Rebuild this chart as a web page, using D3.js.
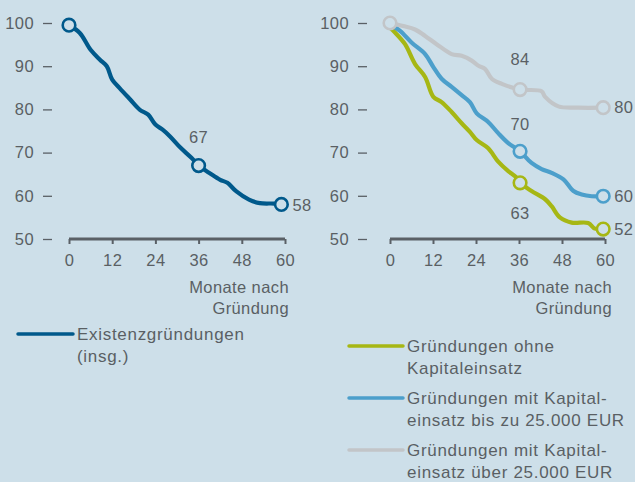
<!DOCTYPE html>
<html>
<head>
<meta charset="utf-8">
<script src="https://cdn.jsdelivr.net/npm/d3@7"></script>
<style>
  html, body { margin: 0; padding: 0; background: #cddfe9; }
  svg { display: block; }
  text { font-family: "Liberation Sans", Arial, sans-serif; fill: #5a5f64; }
</style>
</head>
<body>
<svg id="chart" width="635" height="482"></svg>
<script>
// ---- data ----
const yTicks = [50, 60, 70, 80, 90, 100];
const xTicks = [0, 12, 24, 36, 48, 60];
const xAxisTitle = ["Monate nach", "Gründung"];

// left panel: all start-ups
const totalMonths = [0, 3, 6, 8.6, 10.5, 12, 14, 17, 19.7, 22, 24, 26, 28, 31, 34, 36, 39, 42, 44, 46.5, 50, 53, 57, 59];
const totalValues = [99.5, 97.7, 93.8, 91.5, 90, 86.9, 85, 82.3, 79.9, 78.8, 76.5, 75.3, 73.8, 71.1, 68.8, 67, 65.3, 63.7, 63, 61, 59.1, 58.3, 58.2, 58];
const totalMarks = [0, 36, 59];
const totalLabels = ["", "67", "58"];

// right panel
const noCapMonths = [0, 1.4, 4.2, 7, 9.8, 12.1, 14.4, 17.2, 20, 22.3, 24.2, 27.4, 30.2, 33, 34.9, 36.3, 39.5, 43.3, 45.1, 47.4, 50.7, 55.3, 57.2, 59.5];
const noCapValues = [98.9, 97.8, 95.1, 90.5, 87.5, 82.9, 81.7, 79.4, 76.8, 74.8, 72.9, 71, 67.9, 65.7, 64.5, 63, 61.1, 59.2, 57.6, 55, 53.8, 53.7, 52.4, 52.3];

const lowCapMonths = [0, 2.8, 6, 9.8, 12.1, 14.4, 17.2, 20, 22.3, 24.2, 27.4, 30.2, 33, 36.3, 39.5, 42.3, 45.1, 48.4, 51.2, 53.5, 56.3, 59.5];
const lowCapValues = [99.7, 98.2, 95.5, 92.8, 89.8, 87.1, 85.2, 83.3, 81.7, 79.1, 77.1, 74.5, 72.2, 70.3, 67.6, 66.2, 65.3, 63.8, 61.1, 60.3, 59.9, 59.9];

const highCapMonths = [0, 3.7, 7, 9.8, 13, 17.2, 20, 22.8, 24.7, 26.5, 28.4, 31.2, 36.3, 42.3, 43.3, 47, 52.6, 59.5];
const highCapValues = [100, 99.3, 98.5, 97, 95.1, 92.8, 92.4, 91.3, 90.1, 89.4, 87.1, 85.9, 84.6, 84.2, 82.9, 80.7, 80.4, 80.4];

const rightMarks = [36.3, 59.5];
const noCapLabels = ["63", "52"];
const lowCapLabels = ["70", "60"];
const highCapLabels = ["84", "80"];

const legendLeft = [["Existenzgründungen", "(insg.)"]];
const legendRight = [
  ["Gründungen ohne", "Kapitaleinsatz"],
  ["Gründungen mit Kapital-", "einsatz bis zu 25.000 EUR"],
  ["Gründungen mit Kapital-", "einsatz über 25.000 EUR"]
];

const colors = { total: "#00598b", noCap: "#a6b714", lowCap: "#4c9fcb", highCap: "#c2c5c8" };
const bg = "#cddfe9";
const axisColor = "#5a6066";
const textColor = "#5a5f64";
const FONT = "'Liberation Sans', Arial, sans-serif";

// ---- drawing ----
const svg = d3.select("#chart");
svg.append("rect").attr("width", 635).attr("height", 482).attr("fill", bg);

const y = d3.scaleLinear().domain([50, 100]).range([239, 23]);

function panel(x0, x1, yAxisX, titleRight) {
  const x = d3.scaleLinear().domain([0, 60]).range([x0, x1]);
  const ya = svg.append("g").attr("transform", `translate(${yAxisX},0)`)
    .call(d3.axisLeft(y).tickValues(yTicks).tickSize(9).tickPadding(9).tickFormat(d3.format("d")));
  ya.select(".domain").remove();
  ya.selectAll("line").attr("stroke", axisColor).attr("stroke-width", 1.3);
  ya.selectAll("text").attr("font-size", 16.5).attr("fill", textColor)
    .attr("letter-spacing", 0.4).style("font-family", FONT);
  const xa = svg.append("g").attr("transform", `translate(0,239)`)
    .call(d3.axisBottom(x).tickValues(xTicks).tickSize(5).tickPadding(10).tickSizeOuter(0));
  xa.select(".domain").attr("stroke", axisColor).attr("stroke-width", 3).attr("d", `M${x0},0H${x1}`);
  xa.selectAll("line").attr("stroke", axisColor).attr("stroke-width", 2);
  xa.selectAll("text").attr("font-size", 16.5).attr("fill", textColor)
    .attr("letter-spacing", 0.4).style("font-family", FONT);
  xAxisTitle.forEach((t, i) => {
    svg.append("text").attr("x", titleRight).attr("y", 287 + i * 21.5).attr("dy", "0.35em")
      .attr("text-anchor", "end").attr("font-size", 16.5).attr("letter-spacing", 0.4).text(t);
  });
  return x;
}

function series(x, months, values, color, width) {
  const pts = months.map((m, i) => [m, values[i]]);
  svg.append("path").datum(pts)
    .attr("fill", "none").attr("stroke", color).attr("stroke-width", width)
    .attr("stroke-linejoin", "round").attr("stroke-linecap", "round")
    .attr("d", d3.line().x(d => x(d[0])).y(d => y(d[1])).curve(d3.curveCatmullRom.alpha(0.5)));
}
function valueAt(months, values, m) {
  const i = months.indexOf(m);
  if (i >= 0) return values[i];
  return d3.scaleLinear().domain(months).range(values)(m);
}
function marker(x, m, v, color) {
  svg.append("circle").attr("cx", x(m)).attr("cy", y(v)).attr("r", 6.3)
    .attr("fill", bg).attr("stroke", color).attr("stroke-width", 2.6);
}
function label(px, py, txt, anchor) {
  svg.append("text").attr("x", px).attr("y", py).attr("dy", "0.35em")
    .attr("text-anchor", anchor).attr("font-size", 16.5).attr("letter-spacing", 0.4).text(txt);
}

// left
const xL = panel(69, 285, 52, 289);
series(xL, totalMonths, totalValues, colors.total, 4.2);
totalMarks.forEach(m => marker(xL, m, valueAt(totalMonths, totalValues, m), colors.total));
label(xL(36), 137, totalLabels[1], "middle");
label(xL(59) + 11, y(58) + 1, totalLabels[2], "start");

// right
const xR = panel(390, 605, 367, 612);
series(xR, noCapMonths, noCapValues, colors.noCap, 4.2);
series(xR, lowCapMonths, lowCapValues, colors.lowCap, 4.2);
series(xR, highCapMonths, highCapValues, colors.highCap, 4.2);
[[noCapMonths, noCapValues, colors.noCap], [lowCapMonths, lowCapValues, colors.lowCap], [highCapMonths, highCapValues, colors.highCap]]
  .forEach(([ms, vs, c]) => rightMarks.forEach(m => marker(xR, m, valueAt(ms, vs, m), c)));
marker(xR, 0, highCapValues[0], colors.highCap);
label(xR(36.3), 59, highCapLabels[0], "middle");
label(xR(36.3), 124, lowCapLabels[0], "middle");
label(xR(36.3), 213, noCapLabels[0], "middle");
label(xR(59.5) + 11, y(80.4), highCapLabels[1], "start");
label(xR(59.5) + 11, y(59.9), lowCapLabels[1], "start");
label(xR(59.5) + 11, y(52.3), noCapLabels[1], "start");

// legends
function legend(lx0, lx1, ly, lines, color) {
  svg.append("line").attr("x1", lx0).attr("x2", lx1).attr("y1", ly).attr("y2", ly)
    .attr("stroke", color).attr("stroke-width", 3.5).attr("stroke-linecap", "round");
  lines.forEach((t, i) => {
    svg.append("text").attr("x", lx1 + 4).attr("y", ly + i * 22).attr("dy", "0.35em")
      .attr("font-size", 17).attr("letter-spacing", 0.7).text(t);
  });
}
legend(18, 73, 334, legendLeft[0], colors.total);
legend(349, 403, 346, legendRight[0], colors.noCap);
legend(349, 403, 398, legendRight[1], colors.lowCap);
legend(349, 403, 450, legendRight[2], colors.highCap);
</script>
</body>
</html>
